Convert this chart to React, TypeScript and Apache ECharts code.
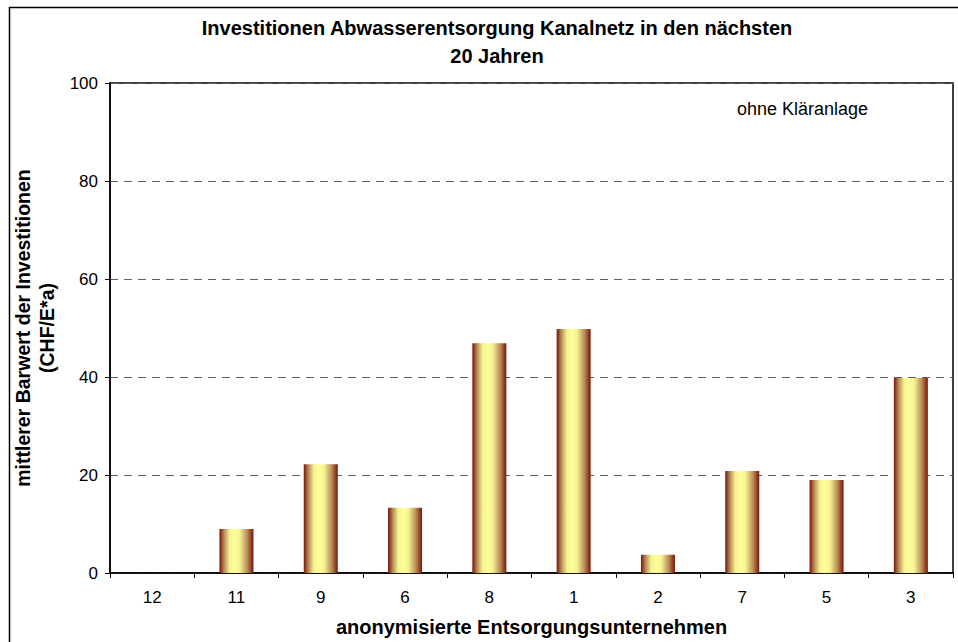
import React, { useEffect, useRef } from "react";
import * as echarts from "echarts";

const categories = ["12", "11", "9", "6", "8", "1", "2", "7", "5", "3"];
const values = [0, 9, 22.2, 13.3, 46.9, 49.8, 3.7, 20.8, 19.0, 39.8];
const yTicks = { min: 0, max: 100, interval: 20 };
const titleText = "Investitionen Abwasserentsorgung Kanalnetz in den nächsten\n20 Jahren";
const yName = "mittlerer Barwert der Investitionen\n(CHF/E*a)";
const xName = "anonymisierte Entsorgungsunternehmen";
const noteText = "ohne Kläranlage";

const FONT = "Liberation Sans, Arial, sans-serif";

export default function App() {
  const ref = useRef<HTMLDivElement>(null);
  useEffect(() => {
    if (!ref.current) return;
    const chart = echarts.init(ref.current, null, { renderer: "svg" });
    const barColor = new echarts.graphic.LinearGradient(0, 0, 1, 0, [
      { offset: 0, color: "#7a1408" },
      { offset: 0.14, color: "#b88c58" },
      { offset: 0.3, color: "#f6f292" },
      { offset: 0.45, color: "#ffff99" },
      { offset: 0.6, color: "#f6f292" },
      { offset: 0.82, color: "#b88c58" },
      { offset: 1, color: "#7a1408" },
    ]);
    chart.setOption({
      animation: false,
      backgroundColor: "#fff",
      textStyle: { fontFamily: FONT, color: "#000" },
      title: {
        text: titleText,
        left: 492,
        top: 9,
        textAlign: "center",
        textStyle: { fontFamily: FONT, fontSize: 20, fontWeight: "bold", color: "#000", lineHeight: 28 },
      },
      graphic: [
        {
          type: "rect",
          shape: { x: 9.5, y: 7.5, width: 1000, height: 700 },
          style: { fill: "none", stroke: "#000", lineWidth: 1.5 },
          silent: true,
        },
        {
          type: "text",
          left: 737,
          top: 100,
          style: { text: noteText, font: `18px ${FONT}`, fill: "#000" },
        },
      ],
      grid: {
        left: 110,
        top: 83,
        right: 5,
        bottom: 64,
        show: true,
        borderColor: "#000",
        borderWidth: 1.5,
        backgroundColor: "transparent",
      },
      xAxis: {
        type: "category",
        data: categories,
        name: xName,
        nameLocation: "middle",
        nameGap: 44,
        nameTextStyle: { fontFamily: FONT, fontSize: 20, fontWeight: "bold", color: "#000" },
        axisLine: { lineStyle: { color: "#000", width: 1.5 } },
        axisTick: { show: true, length: 5, lineStyle: { color: "#000" } },
        axisLabel: { fontSize: 17, color: "#000", margin: 16, fontFamily: FONT },
      },
      yAxis: {
        type: "value",
        min: yTicks.min,
        max: yTicks.max,
        interval: yTicks.interval,
        name: yName,
        nameLocation: "middle",
        nameRotate: 90,
        nameGap: 29,
        nameTextStyle: { fontFamily: FONT, fontSize: 19.5, fontWeight: "bold", color: "#000", lineHeight: 24 },
        axisLine: { show: true, lineStyle: { color: "#000", width: 1.5 } },
        axisTick: { show: true, length: 5, lineStyle: { color: "#000" } },
        axisLabel: { fontSize: 17, color: "#000", margin: 12, fontFamily: FONT },
        splitLine: { show: true, lineStyle: { color: "#606060", type: [8, 6], width: 1 } },
      },
      series: [
        {
          type: "bar",
          data: values,
          barWidth: 34,
          itemStyle: { color: barColor },
        },
      ],
    });
    return () => chart.dispose();
  }, []);
  return <div ref={ref} style={{ width: 958, height: 642, position: "absolute", left: 0, top: 0 }} />;
}
